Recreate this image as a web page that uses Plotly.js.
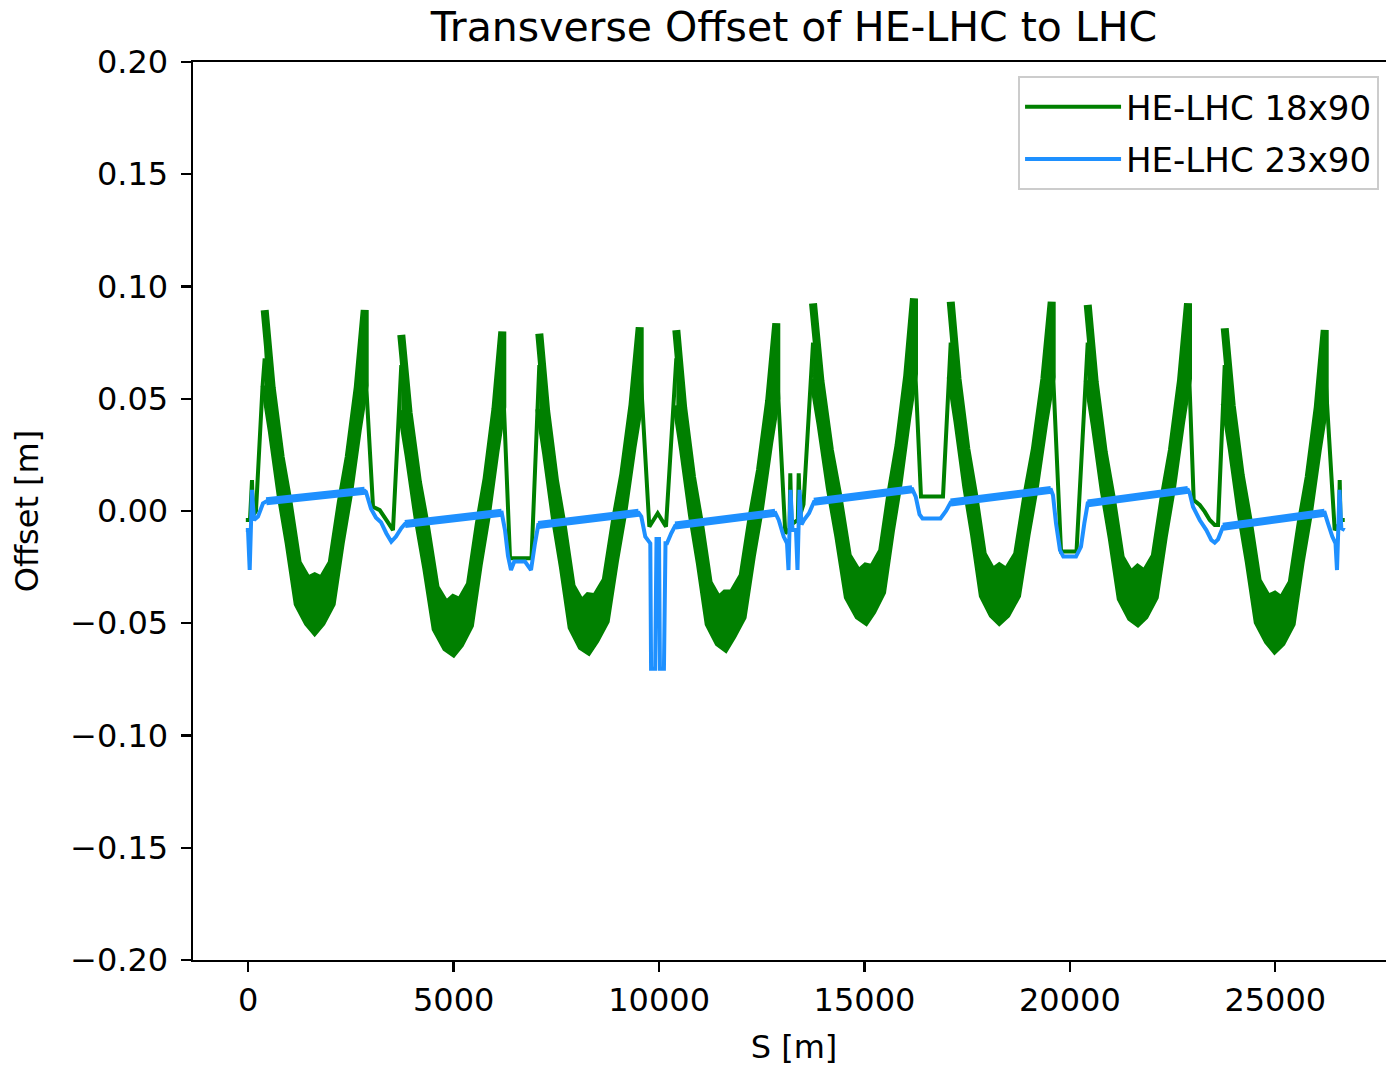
<!DOCTYPE html>
<html><head><meta charset="utf-8">
<script src="https://cdn.plot.ly/plotly-3.0.1.min.js"></script>
<style>html,body{margin:0;padding:0;overflow:hidden;background:#fff}#chart{width:1400px;height:1066px}</style>
</head><body><div id="chart"></div>
<script>
// ---- HE-LHC 18x90: arc bands (dense oscillation envelope), S in m, offsets in m ----
const bandS = [
  399, 569, 788, 983, 1202, 1446, 1616, 1786, 2031, 2250, 2445, 2664, 2834, null,
  3724, 3901, 4129, 4332, 4560, 4813, 4990, 5157, 5396, 5610, 5801, 6016, 6183, null,
  7084, 7251, 7466, 7657, 7871, 8110, 8277, 8452, 8702, 8928, 9128, 9353, 9528, null,
  10419, 10586, 10801, 10992, 11206, 11445, 11612, 11786, 12034, 12257, 12456, 12679, 12853, null,
  13747, 13927, 14158, 14363, 14594, 14850, 15030, 15194, 15429, 15641, 15829, 16040, 16205, null,
  17099, 17265, 17478, 17667, 17880, 18116, 18282, 18460, 18715, 18945, 19149, 19378, 19557, null,
  20434, 20604, 20823, 21018, 21237, 21481, 21651, 21822, 22067, 22287, 22483, 22704, 22875, null,
  23769, 23939, 24158, 24353, 24572, 24816, 24986, 25156, 25400, 25619, 25814, 26033, 26203
];
const bandHi = [
  0.0895, 0.055, 0.024, 0.0036, -0.023, -0.0307, -0.0292, -0.0307, -0.023, 0.0036, 0.024, 0.055, 0.0895, null,
  0.0784, 0.0439, 0.0129, -0.0075, -0.0341, -0.0418, -0.0389, -0.0403, -0.0326, -0.006, 0.0144, 0.0454, 0.0799, null,
  0.079, 0.0445, 0.0135, -0.0069, -0.0335, -0.0412, -0.038, -0.0384, -0.0307, -0.0041, 0.0163, 0.0473, 0.0818, null,
  0.0806, 0.0461, 0.0151, -0.0053, -0.0319, -0.0396, -0.0367, -0.0366, -0.0289, -0.0023, 0.0181, 0.0491, 0.0836, null,
  0.0925, 0.058, 0.027, 0.0066, -0.02, -0.0277, -0.0248, -0.0255, -0.0178, 0.0088, 0.0292, 0.0602, 0.0947, null,
  0.0932, 0.0587, 0.0277, 0.0073, -0.0193, -0.027, -0.0248, -0.027, -0.0193, 0.0073, 0.0277, 0.0587, 0.0932, null,
  0.0918, 0.0573, 0.0263, 0.0059, -0.0207, -0.0284, -0.0255, -0.0277, -0.02, 0.0066, 0.027, 0.058, 0.0925, null,
  0.0814, 0.0469, 0.0159, -0.0045, -0.0311, -0.0388, -0.0374, -0.0396, -0.0319, -0.0053, 0.0151, 0.0461, 0.0806
];
const bandLo = [
  0.056, 0.036, 0.007, -0.0143, -0.0413, -0.0498, -0.0535, -0.0498, -0.0413, -0.0143, 0.007, 0.036, 0.056, null,
  0.0449, 0.0249, -0.0041, -0.0254, -0.0524, -0.0609, -0.0632, -0.0594, -0.0509, -0.0239, -0.0026, 0.0264, 0.0464, null,
  0.0455, 0.0255, -0.0035, -0.0248, -0.0518, -0.0603, -0.0623, -0.0575, -0.049, -0.022, -0.0007, 0.0283, 0.0483, null,
  0.0471, 0.0271, -0.0019, -0.0232, -0.0502, -0.0587, -0.061, -0.0557, -0.0472, -0.0202, 0.0011, 0.0301, 0.0501, null,
  0.059, 0.039, 0.01, -0.0113, -0.0383, -0.0468, -0.0491, -0.0446, -0.0361, -0.0091, 0.0122, 0.0412, 0.0612, null,
  0.0597, 0.0397, 0.0107, -0.0106, -0.0376, -0.0461, -0.0491, -0.0461, -0.0376, -0.0106, 0.0107, 0.0397, 0.0597, null,
  0.0583, 0.0383, 0.0093, -0.012, -0.039, -0.0475, -0.0498, -0.0468, -0.0383, -0.0113, 0.01, 0.039, 0.059, null,
  0.0479, 0.0279, -0.0011, -0.0224, -0.0494, -0.0579, -0.0617, -0.0587, -0.0502, -0.0226, -0.0015, 0.0271, 0.0471
];
// ---- HE-LHC 18x90: thin line through the insertion regions ----
const greenS = [
  -60, 41, 90, 114, 187, 345, 399, null,
  2834, 3036, 3199, 3359, 3522, 3724, null,
  6183, 6371, 6894, 7084, null,
  9528, 9762, 9966, 10168, 10419, null,
  12853, 13072, 13174, 13194, 13223, 13377, 13399, 13430, 13515, 13747, null,
  16205, 16375, 16911, 17099, null,
  19557, 19784, 20161, 20434, null,
  22875, 23014, 23160, 23282, 23404, 23525, 23606, 23769, null,
  26203, 26446, 26551, 26568, 26588, 26690
];
const greenV = [
  -0.004, -0.004, 0.0138, -0.002, 0.0, 0.055, 0.068, null,
  0.068, 0.0019, 0.0004, -0.004, -0.0085, 0.065, null,
  0.065, -0.021, -0.021, 0.065, null,
  0.068, -0.007, -0.001, -0.007, 0.068, null,
  0.068, -0.0099, -0.008, 0.0168, -0.006, -0.004, 0.0168, -0.002, 0.003, 0.075, null,
  0.075, 0.0065, 0.0065, 0.075, null,
  0.075, -0.018, -0.018, 0.075, null,
  0.075, 0.0049, 0.0027, -0.0003, -0.004, -0.0062, -0.0062, 0.065, null,
  0.065, -0.0085, -0.006, 0.0138, -0.004, -0.004
];
// ---- HE-LHC 23x90 ----
const blueS = [
  -60, -7, 34, 90, 139, 236, 358, 438,
  2834, 2865, 2987, 3109, 3230, 3359, 3481, 3595, 3724, 3815,
  6169, 6249, 6322, 6395, 6475, 6736, 6882, 6979, 7059,
  9503, 9567, 9664, 9786, 9805, 9905, 9937, 9998, 10020, 10118, 10156, 10192, 10297, 10394,
  12829, 12912, 13033, 13114, 13150, 13199, 13248, 13333, 13369, 13418, 13467, 13527, 13649, 13771,
  16164, 16247, 16339, 16412, 16850, 16984, 17099,
  19540, 19589, 19662, 19759, 19840, 20149, 20270, 20351, 20434,
  22875, 22917, 22997, 23160, 23321, 23442, 23525, 23606, 23727,
  26203, 26283, 26388, 26466, 26502, 26563, 26607, 26690
];
const blueV = [
  -0.0085, -0.0085, -0.0263, 0.0094, -0.004, -0.0025, 0.0034, 0.0043,
  0.009, 0.0085, 0.001, -0.003, -0.005, -0.0099, -0.0137, -0.0114, -0.0077, -0.0058,
  -0.0008, -0.0085, -0.020, -0.0263, -0.0225, -0.0225, -0.0263, -0.0144, -0.0062,
  -0.0008, -0.0025, -0.0114, -0.0144, -0.0703, -0.0703, -0.0125, -0.0125, -0.0703, -0.0703, -0.0144, -0.0144, -0.0099, -0.0065,
  -0.0008, -0.004, -0.0114, -0.0144, -0.0263, 0.0094, -0.0085, -0.0085, -0.0263, 0.0094, -0.006, -0.004, -0.001, 0.0041,
  0.0097, 0.0064, -0.0015, -0.0033, -0.0033, 0.0, 0.0038,
  0.0094, 0.007, -0.0055, -0.0174, -0.0203, -0.0203, -0.0159, -0.0055, 0.0034,
  0.0094, 0.0079, 0.0019, -0.004, -0.0085, -0.0129, -0.0141, -0.0126, -0.007,
  -0.0008, -0.0055, -0.0114, -0.0144, -0.0263, 0.0094, -0.0077, -0.0085
];
// arc sections of HE-LHC 23x90 (dense small oscillation -> thicker trace)
const blueArcS = [438, 2834, null, 3815, 6169, null, 7059, 9503, null, 10394, 12829, null,
  13771, 16164, null, 17099, 19540, null, 20434, 22875, null, 23727, 26203];
const blueArcV = [0.0043, 0.009, null, -0.0058, -0.0008, null, -0.0062, -0.0008, null, -0.0065, -0.0008, null,
  0.0041, 0.0097, null, 0.0038, 0.0094, null, 0.0034, 0.0094, null, -0.007, -0.0008];

const xTickVals = [0, 5000, 10000, 15000, 20000, 25000];
const xTickText = ['0', '5000', '10000', '15000', '20000', '25000'];
const yTickVals = [-0.2, -0.15, -0.1, -0.05, 0, 0.05, 0.1, 0.15, 0.2];
const yTickText = ['\u22120.20', '\u22120.15', '\u22120.10', '\u22120.05', '0.00', '0.05', '0.10', '0.15', '0.20'];

const GREEN = '#008000', BLUE = '#1e90ff';
const FONT = 'DejaVu Sans';

function splitNull(a) {
  const out = []; let cur = [];
  a.forEach(v => { if (v === null) { if (cur.length) out.push(cur); cur = []; } else cur.push(v); });
  if (cur.length) out.push(cur);
  return out;
}

const traces = [];
const sSegs = splitNull(bandS), hSegs = splitNull(bandHi), lSegs = splitNull(bandLo);
sSegs.forEach((s, i) => {
  traces.push({
    x: s.concat(s.slice().reverse()),
    y: hSegs[i].concat(lSegs[i].slice().reverse()),
    type: 'scatter', mode: 'lines', fill: 'toself', fillcolor: GREEN,
    line: {color: GREEN, width: 8, simplify: false},
    showlegend: false, hoverinfo: 'skip', legendgroup: 'g'
  });
});
traces.push({
  x: greenS, y: greenV, type: 'scatter', mode: 'lines', name: 'HE-LHC 18x90',
  line: {color: GREEN, width: 4, simplify: false}, connectgaps: false, legendgroup: 'g'
});
traces.push({
  x: blueS, y: blueV, type: 'scatter', mode: 'lines', name: 'HE-LHC 23x90',
  line: {color: BLUE, width: 4, simplify: false}, legendgroup: 'b'
});
traces.push({
  x: blueArcS, y: blueArcV, type: 'scatter', mode: 'lines', showlegend: false,
  line: {color: BLUE, width: 8, simplify: false}, connectgaps: false, legendgroup: 'b', hoverinfo: 'skip'
});

const axisCommon = {
  showgrid: false, zeroline: false, showline: true, linecolor: '#000', linewidth: 2.4,
  mirror: true, ticks: 'outside', ticklen: 10, tickwidth: 2.4, tickcolor: '#000',
  tickfont: {family: FONT, size: 32, color: '#000'}
};

const layout = {
  width: 1400, height: 1066,
  margin: {l: 193, r: 5, t: 62, b: 106},
  paper_bgcolor: '#fff', plot_bgcolor: '#fff',
  font: {family: FONT, size: 32, color: '#000'},
  title: {text: 'Transverse Offset of HE-LHC to LHC', font: {family: FONT, size: 41, color: '#000'},
          xref: 'paper', x: 0.5, xanchor: 'center', yref: 'container', y: 0.975, yanchor: 'middle'},
  xaxis: Object.assign({}, axisCommon, {
    range: [-1346, 27914], tickmode: 'array', tickvals: xTickVals, ticktext: xTickText,
    title: {text: 'S [m]', font: {family: FONT, size: 32, color: '#000'}, standoff: 20}
  }),
  yaxis: Object.assign({}, axisCommon, {
    range: [-0.2, 0.2], tickmode: 'array', tickvals: yTickVals, ticktext: yTickText,
    ticklabelstandoff: 6,
    title: {text: 'Offset [m]', font: {family: FONT, size: 32, color: '#000'}, standoff: 22}
  }),
  legend: {
    x: 0.6864, y: 0.9842, xanchor: 'left', yanchor: 'top',
    bgcolor: 'rgba(255,255,255,0.8)', bordercolor: '#cccccc', borderwidth: 2,
    font: {family: FONT, size: 34, color: '#000'},
    itemwidth: 96, tracegroupgap: 5
  },
  showlegend: true
};

Plotly.newPlot('chart', traces, layout, {displayModeBar: false, staticPlot: true});
</script></body></html>
